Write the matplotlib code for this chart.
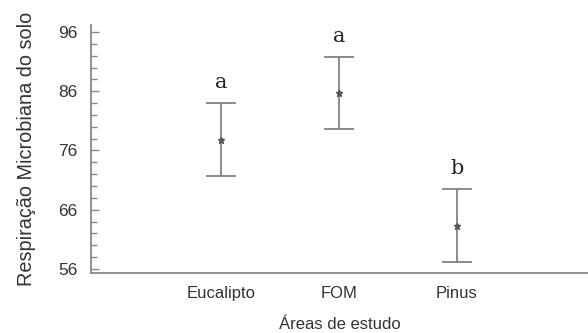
import matplotlib.pyplot as plt
from matplotlib.ticker import MultipleLocator

# médias e intervalos por área
areas = ["Eucalipto", "FOM", "Pinus"]
medias = [77.8, 85.7, 63.3]
erro = [6.15, 6.1, 6.2]
letras = ["a", "a", "b"]

plt.rcParams['font.family'] = ['Liberation Sans', 'DejaVu Sans']

fig = plt.figure(figsize=(5.88, 3.33), dpi=100)
ax = fig.add_axes([0.155, 0.18, 0.845, 0.745])

posicoes = [1, 2, 3]
ax.errorbar(posicoes, medias, yerr=erro, fmt='*', color='#666666',
            markersize=4.5, markerfacecolor='#555555', markeredgecolor='#555555',
            ecolor='#777777', elinewidth=1.2, capsize=11, capthick=1.2)

for x, m, e, letra in zip(posicoes, medias, erro, letras):
    ax.annotate(letra, (x, m + e), xytext=(0, 8), textcoords='offset points',
                ha='center', va='bottom', fontsize=15, color='#222222',
                family='DejaVu Serif')

ax.set_xlim(-0.1, 4.11)
ax.set_ylim(55.3, 97.2)
ax.set_xticks(posicoes)
ax.set_xticklabels(areas)
ax.set_yticks([56, 66, 76, 86, 96])
ax.yaxis.set_minor_locator(MultipleLocator(2))

ax.tick_params(axis='y', which='major', direction='in', length=6, width=1,
               color='#888888', labelsize=12.5, labelcolor='#333333', pad=10)
ax.tick_params(axis='y', which='minor', direction='in', length=4, width=1,
               color='#888888')
ax.tick_params(axis='x', length=0, labelsize=12, labelcolor='#333333', pad=9)

for lado in ['top', 'right']:
    ax.spines[lado].set_visible(False)
for lado in ['left', 'bottom']:
    ax.spines[lado].set_color('#888888')
    ax.spines[lado].set_linewidth(1.3)

ax.set_ylabel("Respiração Microbiana do solo", fontsize=14.3, color='#333333',
              labelpad=16)
ax.set_xlabel("Áreas de estudo", fontsize=12, color='#333333', labelpad=12)

fig.savefig("out.png", dpi=100)
